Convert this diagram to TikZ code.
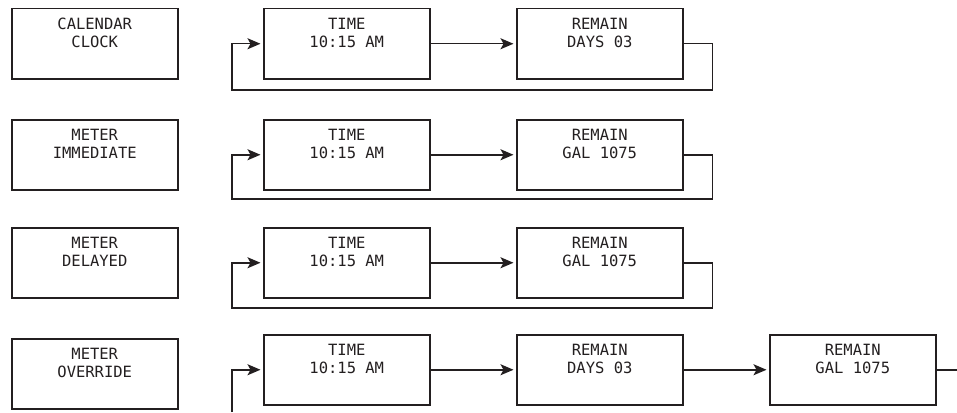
\documentclass[tikz,border=0pt]{standalone}
\usepackage{fontspec}
\newfontfamily\lcdfont{DejaVu Sans Mono}
\usetikzlibrary{arrows.meta}
\definecolor{ink}{RGB}{35,31,32}
\newcommand\lcdtext[2]{\parbox[c][70pt][t]{166pt}{\centering\baselineskip=18pt\vspace*{9pt}#1\\#2\par}}
\tikzset{
  lcdbox/.style={draw=ink, line width=1.5pt, inner sep=0pt, minimum width=166pt, minimum height=70pt, anchor=north west, font=\lcdfont\fontsize{15.5pt}{18pt}\selectfont, text=ink},
  link/.style={draw=ink, line width=1.5pt, -{Stealth[length=13pt,width=11pt,inset=3pt]}, shorten >=2.5pt},
  wire/.style={draw=ink, line width=1.5pt}
}
\begin{document}
\begin{tikzpicture}[x=1pt,y=-1pt]
\useasboundingbox (0,0) rectangle (957,412);
% row 1
\node[lcdbox] (m1) at (11,8) {\lcdtext{CALENDAR}{CLOCK}};
\node[lcdbox] (t1) at (263,8) {\lcdtext{TIME}{10:15 AM}};
\node[lcdbox] (r1) at (516,8) {\lcdtext{REMAIN}{DAYS 03}};
\coordinate (b1) at (232,90);
\draw[link] (t1.east) -- (r1.west);
\draw[link] (r1.east) -- ++(29,0) |- (b1) |- (t1.west);
% row 2
\node[lcdbox] (m2) at (11,119) {\lcdtext{METER}{IMMEDIATE}};
\node[lcdbox] (t2) at (263,119) {\lcdtext{TIME}{10:15 AM}};
\node[lcdbox] (r2) at (516,119) {\lcdtext{REMAIN}{GAL 1075}};
\coordinate (b2) at (232,199);
\draw[link] (t2.east) -- (r2.west);
\draw[link] (r2.east) -- ++(29,0) |- (b2) |- (t2.west);
% row 3
\node[lcdbox] (m3) at (11,227) {\lcdtext{METER}{DELAYED}};
\node[lcdbox] (t3) at (263,227) {\lcdtext{TIME}{10:15 AM}};
\node[lcdbox] (r3) at (516,227) {\lcdtext{REMAIN}{GAL 1075}};
\coordinate (b3) at (232,308);
\draw[link] (t3.east) -- (r3.west);
\draw[link] (r3.east) -- ++(29,0) |- (b3) |- (t3.west);
% row 4
\node[lcdbox] (m4) at (11,338) {\lcdtext{METER}{OVERRIDE}};
\node[lcdbox] (t4) at (263,334) {\lcdtext{TIME}{10:15 AM}};
\node[lcdbox] (r4) at (516,334) {\lcdtext{REMAIN}{DAYS 03}};
\node[lcdbox] (g4) at (769,334) {\lcdtext{REMAIN}{GAL 1075}};
\coordinate (in4) at (232,412);
\coordinate (out4) at (957,370);
\draw[link] (t4.east) -- (r4.west);
\draw[link] (r4.east) -- (g4.west);
\draw[link] (in4) |- (t4.west);
\draw[wire] (g4.east) -- (g4.east -| out4);
\end{tikzpicture}
\end{document}
